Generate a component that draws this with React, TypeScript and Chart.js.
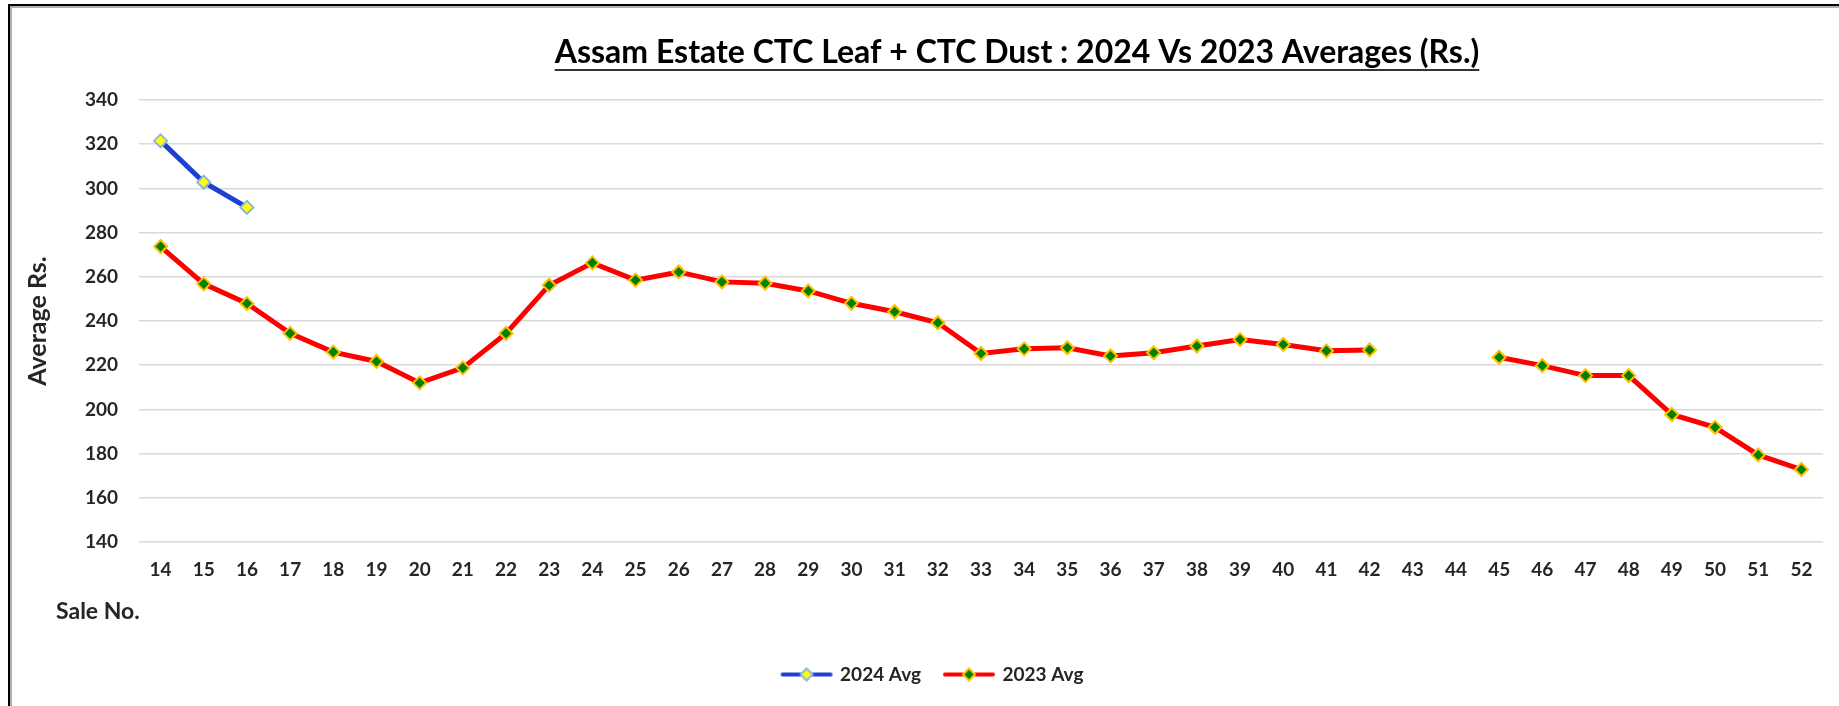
import React, { useEffect, useRef } from "react";
import { Chart, registerables } from "chart.js";

Chart.register(...registerables);

const saleNos: string[] = [
  "14", "15", "16", "17", "18", "19", "20", "21", "22", "23", "24", "25", "26",
  "27", "28", "29", "30", "31", "32", "33", "34", "35", "36", "37", "38", "39",
  "40", "41", "42", "43", "44", "45", "46", "47", "48", "49", "50", "51", "52",
];

const avg2024: (number | null)[] = [321.5, 302.8, 291.4];

const avg2023: (number | null)[] = [
  273.7, 256.8, 247.9, 234.4, 225.9, 221.7, 212.0, 218.8, 234.4, 256.2, 266.3,
  258.5, 262.2, 257.7, 257.1, 253.6, 248.0, 244.2, 239.2, 225.3, 227.4, 227.9,
  224.2, 225.6, 228.7, 231.6, 229.4, 226.5, 226.9, null, null, 223.6, 219.8,
  215.3, 215.3, 197.7, 191.9, 179.4, 172.8,
];

const yMin = 140;
const yMax = 340;
const yStep = 20;

const TITLE = "Assam Estate CTC Leaf + CTC Dust : 2024 Vs 2023 Averages (Rs.)";
const Y_TITLE = "Average Rs.";
const X_TITLE = "Sale No.";
const FONT = "Lato, 'Open Sans', sans-serif";
const TEXT = "#262626";

function legendSwatch(line: string, fill: string, border: string) {
  const c = document.createElement("canvas");
  c.width = 54;
  c.height = 16;
  const ctx = c.getContext("2d")!;
  ctx.strokeStyle = line;
  ctx.lineWidth = 4;
  ctx.lineCap = "round";
  ctx.beginPath();
  ctx.moveTo(3, 8);
  ctx.lineTo(51, 8);
  ctx.stroke();
  ctx.beginPath();
  ctx.moveTo(27, 2);
  ctx.lineTo(33, 8);
  ctx.lineTo(27, 14);
  ctx.lineTo(21, 8);
  ctx.closePath();
  ctx.fillStyle = fill;
  ctx.fill();
  ctx.lineWidth = 2;
  ctx.strokeStyle = border;
  ctx.stroke();
  return c;
}

const decor = {
  id: "decor",
  beforeDraw(chart: any) {
    const ctx = chart.ctx;
    ctx.save();
    ctx.fillStyle = "#ffffff";
    ctx.fillRect(0, 0, chart.width, chart.height);
    ctx.restore();
  },
  afterDraw(chart: any) {
    const ctx = chart.ctx;
    ctx.save();
    // frame
    ctx.fillStyle = "#000000";
    ctx.fillRect(8, 4, chart.width - 8, 2);
    ctx.fillRect(8, 4, 2, chart.height - 4);
    ctx.fillStyle = "#b0b0b0";
    ctx.fillRect(10, 6, chart.width - 10, 2);
    ctx.fillRect(10, 6, 2, chart.height - 6);
    // title
    ctx.font = `bold 32px ${FONT}`;
    ctx.fillStyle = "#000000";
    ctx.textAlign = "center";
    ctx.textBaseline = "middle";
    const cx = 1017;
    ctx.fillText(TITLE, cx, 53);
    const w = ctx.measureText(TITLE).width;
    ctx.fillStyle = "#333333";
    ctx.fillRect(cx - w / 2, 69, w, 2);
    // x axis title
    ctx.font = `bold 23px ${FONT}`;
    ctx.fillStyle = TEXT;
    ctx.textAlign = "left";
    ctx.fillText(X_TITLE, 56, 612);
    ctx.restore();
  },
};

export default function App() {
  const ref = useRef<HTMLCanvasElement | null>(null);

  useEffect(() => {
    if (!ref.current) return;
    const swatches = [
      legendSwatch("#1f3fd0", "#ffff00", "#8fb4e3"),
      legendSwatch("#ff0000", "#008000", "#ffc000"),
    ];
    const chart = new Chart(ref.current, {
      type: "line",
      data: {
        labels: saleNos,
        datasets: [
          {
            label: "2024 Avg",
            data: avg2024,
            borderColor: "#1f3fd0",
            backgroundColor: "#ffff00",
            borderWidth: 5,
            pointStyle: "rectRot",
            pointRadius: 6.5,
            pointBackgroundColor: "#ffff00",
            pointBorderColor: "#8fb4e3",
            pointBorderWidth: 2,
            spanGaps: false,
            tension: 0,
          },
          {
            label: "2023 Avg",
            data: avg2023,
            borderColor: "#ff0000",
            backgroundColor: "#008000",
            borderWidth: 5,
            pointStyle: "rectRot",
            pointRadius: 6.5,
            pointBackgroundColor: "#008000",
            pointBorderColor: "#ffc000",
            pointBorderWidth: 2,
            spanGaps: false,
            tension: 0,
          },
        ],
      },
      options: {
        responsive: false,
        animation: false,
        layout: { padding: { left: 43, right: 16, top: 100, bottom: 12 } },
        plugins: {
          tooltip: { enabled: false },
          title: { display: false },
          legend: {
            position: "bottom",
            labels: {
              usePointStyle: true,
              pointStyleWidth: 48,
              padding: 24,
              color: TEXT,
              font: { family: FONT, size: 19, weight: "bold" },
              generateLabels: (c: any) => {
                const items = Chart.defaults.plugins.legend.labels.generateLabels(c);
                return items.map((it: any, i: number) => ({ ...it, pointStyle: swatches[i] }));
              },
            },
          },
        },
        scales: {
          x: {
            offset: true,
            grid: { display: false, offset: true },
            border: { display: false },
            ticks: {
              color: TEXT,
              font: { family: FONT, size: 19, weight: "bold" },
              padding: 8,
              autoSkip: false,
              maxRotation: 0,
            },
            afterFit: (s: any) => {
              s.height = 99;
            },
          },
          y: {
            min: yMin,
            max: yMax,
            ticks: {
              stepSize: yStep,
              color: TEXT,
              font: { family: FONT, size: 19, weight: "bold" },
              padding: 21,
            },
            grid: { color: "#d9d9d9", lineWidth: 1.5, drawTicks: false },
            border: { display: false },
            title: {
              display: true,
              text: Y_TITLE,
              color: TEXT,
              font: { family: FONT, size: 25, weight: "bold" },
              padding: { top: -20, bottom: 0 },
            },
            afterFit: (s: any) => {
              s.width = 96;
            },
          },
        },
      },
      plugins: [decor],
    } as any);
    return () => chart.destroy();
  }, []);

  return (
    <div style={{ position: "absolute", left: 0, top: 0, width: 1839, height: 706 }}>
      <canvas ref={ref} width={1839} height={706} style={{ display: "block" }} />
    </div>
  );
}
